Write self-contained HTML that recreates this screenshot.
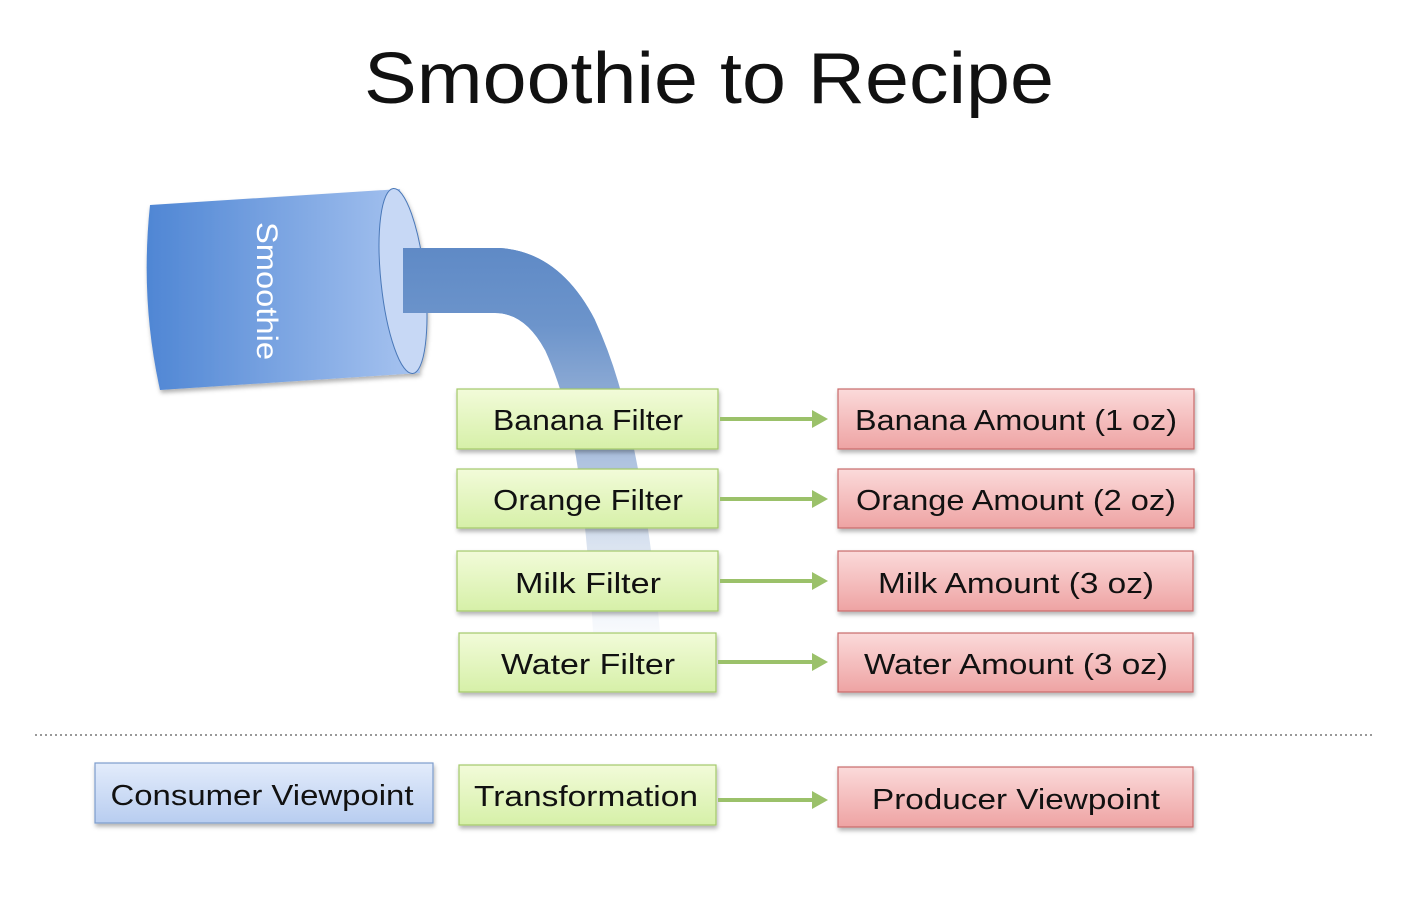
<!DOCTYPE html>
<html><head><meta charset="utf-8"><style>html,body{margin:0;padding:0;background:#fff}svg{display:block}</style></head>
<body>
<svg width="1404" height="924" viewBox="0 0 1404 924" xmlns="http://www.w3.org/2000/svg" font-family="Liberation Sans, sans-serif">
<defs>
<linearGradient id="cyl" x1="0" y1="0" x2="1" y2="0">
<stop offset="0" stop-color="#4f86d4"/><stop offset="1" stop-color="#a8c4f0"/></linearGradient>
<linearGradient id="str" gradientUnits="userSpaceOnUse" x1="0" y1="248" x2="0" y2="632">
<stop offset="0" stop-color="#5f8ac6"/><stop offset="0.2" stop-color="#6c94cb"/><stop offset="0.45" stop-color="#9ab3d8"/><stop offset="0.8" stop-color="#dfe7f2"/><stop offset="1" stop-color="#f8fafd"/></linearGradient>
<linearGradient id="g" x1="0" y1="0" x2="0" y2="1"><stop offset="0" stop-color="#f2fbd9"/><stop offset="1" stop-color="#d6f0a8"/></linearGradient>
<linearGradient id="r" x1="0" y1="0" x2="0" y2="1"><stop offset="0" stop-color="#fbdada"/><stop offset="1" stop-color="#eea3a3"/></linearGradient>
<linearGradient id="b" x1="0" y1="0" x2="0" y2="1"><stop offset="0" stop-color="#e3ecfb"/><stop offset="1" stop-color="#b8cdf0"/></linearGradient>
<filter id="sh" x="-5%" y="-10%" width="110%" height="130%"><feDropShadow dx="1" dy="3" stdDeviation="2" flood-color="#000" flood-opacity="0.3"/></filter>
</defs>
<text x="364" y="103" font-size="72" textLength="690" lengthAdjust="spacingAndGlyphs" fill="#111">Smoothie to Recipe</text>

<path d="M403,248 L500,248 Q560,252 595,320 Q618,370 630,430 Q650,520 660,632 L593,632 Q588,540 578,470 Q568,400 545,350 Q525,313 495,313 L403,313 Z" fill="url(#str)"/>

<g filter="url(#sh)">
<path d="M150,205 L400,189 L420,373 L160,390 Q140,300 150,205 Z" fill="url(#cyl)"/>
<ellipse cx="403" cy="281" rx="22" ry="93" transform="rotate(-6 403 281)" fill="#c7d8f5" stroke="#4a78b8" stroke-width="1"/>
</g>
<path d="M403,248 L500,248 Q560,252 595,320 L545,350 Q525,313 495,313 L403,313 Z" fill="url(#str)"/>
<text transform="translate(257,222) rotate(90)" font-size="30" fill="#fff" textLength="138" lengthAdjust="spacingAndGlyphs">Smoothie</text>

<g font-size="29" fill="#111" text-anchor="middle">
<g filter="url(#sh)" stroke-width="1.2">
<rect x="457" y="389" width="261" height="60" fill="url(#g)" stroke="#a3c96a"/>
<rect x="457" y="469" width="261" height="59" fill="url(#g)" stroke="#a3c96a"/>
<rect x="457" y="551" width="261" height="60" fill="url(#g)" stroke="#a3c96a"/>
<rect x="459" y="633" width="257" height="59" fill="url(#g)" stroke="#a3c96a"/>
<rect x="838" y="389" width="356" height="60" fill="url(#r)" stroke="#c86a6a"/>
<rect x="838" y="469" width="356" height="59" fill="url(#r)" stroke="#c86a6a"/>
<rect x="838" y="551" width="355" height="60" fill="url(#r)" stroke="#c86a6a"/>
<rect x="838" y="633" width="355" height="59" fill="url(#r)" stroke="#c86a6a"/>
<rect x="95" y="763" width="338" height="60" fill="url(#b)" stroke="#7d9ccc"/>
<rect x="459" y="765" width="257" height="60" fill="url(#g)" stroke="#a3c96a"/>
<rect x="838" y="767" width="355" height="60" fill="url(#r)" stroke="#c86a6a"/>
</g>
<text x="588" y="430" textLength="190" lengthAdjust="spacingAndGlyphs">Banana Filter</text>
<text x="588" y="510" textLength="190" lengthAdjust="spacingAndGlyphs">Orange Filter</text>
<text x="588" y="593" textLength="146" lengthAdjust="spacingAndGlyphs">Milk Filter</text>
<text x="588" y="674" textLength="174" lengthAdjust="spacingAndGlyphs">Water Filter</text>
<text x="1016" y="430" textLength="322" lengthAdjust="spacingAndGlyphs">Banana Amount (1 oz)</text>
<text x="1016" y="510" textLength="320" lengthAdjust="spacingAndGlyphs">Orange Amount (2 oz)</text>
<text x="1016" y="593" textLength="276" lengthAdjust="spacingAndGlyphs">Milk Amount (3 oz)</text>
<text x="1016" y="674" textLength="304" lengthAdjust="spacingAndGlyphs">Water Amount (3 oz)</text>
<text x="262" y="805" textLength="303" lengthAdjust="spacingAndGlyphs">Consumer Viewpoint</text>
<text x="586" y="806" textLength="224" lengthAdjust="spacingAndGlyphs">Transformation</text>
<text x="1016" y="809" textLength="288" lengthAdjust="spacingAndGlyphs">Producer Viewpoint</text>
</g>

<g stroke="#9bc16a" stroke-width="4" fill="#9bc16a">
<line x1="720" y1="419" x2="814" y2="419"/><polygon points="812,410 828,419 812,428" stroke="none"/>
<line x1="720" y1="499" x2="814" y2="499"/><polygon points="812,490 828,499 812,508" stroke="none"/>
<line x1="720" y1="581" x2="814" y2="581"/><polygon points="812,572 828,581 812,590" stroke="none"/>
<line x1="718" y1="662" x2="814" y2="662"/><polygon points="812,653 828,662 812,671" stroke="none"/>
<line x1="718" y1="800" x2="814" y2="800"/><polygon points="812,791 828,800 812,809" stroke="none"/>
</g>
<line x1="35" y1="735" x2="1372" y2="735" stroke="#999" stroke-width="2" stroke-dasharray="2,3"/>
</svg>
</body></html>
